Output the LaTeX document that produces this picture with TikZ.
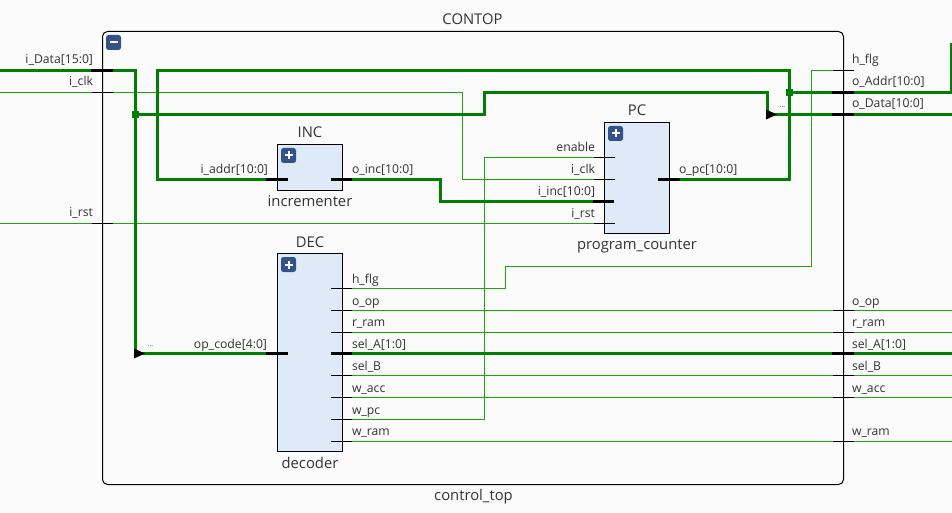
\documentclass[tikz,border=0pt]{standalone}
\usepackage{fontspec}
\setmainfont{Open Sans}
\definecolor{bg}{HTML}{FBFBFB}
\definecolor{busgreen}{HTML}{008000}
\definecolor{netgreen}{HTML}{1CA80C}
\definecolor{blockblue}{HTML}{DEEAF8}
\definecolor{btnblue}{HTML}{34528A}
\definecolor{txt}{HTML}{333333}
\tikzset{
  bus/.style={draw=busgreen,line width=3pt,line join=miter},
  net/.style={draw=netgreen,line width=1pt},
  stubthin/.style={draw=black,line width=1pt},
  stubthick/.style={draw=black,line width=3pt},
  block/.style={draw=black,line width=1pt,fill=blockblue,inner sep=0pt,outer sep=0pt},
  lbl/.style={text=txt,font=\fontsize{12.2}{14}\selectfont,inner sep=0pt,outer sep=0pt},
  lr/.style={lbl,anchor=base east},
  ll/.style={lbl,anchor=base west},
  ttl/.style={text=txt,font=\fontsize{14.8}{17}\selectfont,inner sep=0pt,anchor=base},
  btn/.style={fill=btnblue,rounded corners=2.5pt,minimum size=15pt,inner sep=0pt},
  jn/.style={fill=busgreen,minimum size=6.5pt,inner sep=0pt},
  rip/.style={fill=black},
  dots/.style={text=black!70,font=\fontsize{7}{7}\selectfont,inner sep=0pt}
}
\begin{document}
\begin{tikzpicture}[x=1pt,y=-1pt]
\useasboundingbox[fill=bg] (0,0) rectangle (952,513);
% outer box
\node[draw=black,line width=1pt,fill=bg,rounded corners=5pt,minimum width=741pt,minimum height=453pt,inner sep=0pt] (top) at (473,258) {};
% blocks
\node[block,minimum width=65pt,minimum height=46pt] (inc) at (310,167.5) {};
\node[block,minimum width=65pt,minimum height=198pt] (dec) at (310,352.5) {};
\node[block,minimum width=65pt,minimum height=111pt] (pc) at (637,178) {};
% coordinates
\coordinate (dataIn) at (0,70.5);
\coordinate (clkIn) at (0,92.5);
\coordinate (rstIn) at (0,223.5);
\coordinate (trunk) at (135.5,70.5);
\coordinate (pcClk) at (594,179.5);
\coordinate (pcRst) at (594,223.5);
\coordinate (pcEn) at (594,157.5);
\coordinate (pcInc) at (593,201.5);
\coordinate (pcOut) at (680,179.5);
\coordinate (incIn) at (266,179.5);
\coordinate (incOut) at (352,179.5);
\coordinate (decIn) at (266,353.5);
\coordinate (hflgOut) at (352,288.5);
\coordinate (wpcOut) at (352,419.5);
\coordinate (hflgPort) at (833,70.5);
\coordinate (addrEnd) at (951.5,43);
% wires thin
\draw[net] (clkIn) -- (462.5,92.5) -- (462.5,179.5) -- (pcClk);
\draw[net] (rstIn) -- (pcRst);
\draw[net] (wpcOut) -- (484.5,419.5) -- (484.5,157.5) -- (pcEn);
\draw[net] (hflgOut) -- (505.5,288.5) -- (505.5,266.5) -- (811.5,266.5) -- (811.5,70.5) -- (hflgPort);
\foreach \n/\y in {op/310.5,rram/332.5,selb/375.5,wacc/397.5,wram/441.5}{
  \coordinate (\n L) at (352,\y);
  \coordinate (\n R) at (952,\y);
  \draw[net] (\n L) -- (\n R);
}
% wires thick
\coordinate (selaL) at (352,353.5);
\coordinate (selaR) at (952,353.5);
\draw[bus] (selaL) -- (selaR);
\draw[bus] (dataIn) -- (trunk) -- (135.5,353.5) -- (decIn);
\draw[bus] (incIn) -- (157.5,179.5) -- (157.5,70.5) -- (789.5,70.5) -- (789.5,179.5) -- (pcOut);
\draw[bus] (incOut) -- (440.5,179.5) -- (440.5,201.5) -- (pcInc);
\draw[bus] (135.5,114.5) -- (484.5,114.5) -- (484.5,92.5) -- (767.5,92.5) -- (767.5,114.5) -- (952,114.5);
\draw[bus] (789.5,92.5) -- (951.5,92.5) -- (addrEnd);
% junctions and rippers
\node[jn] (j1) at (135.5,114.5) {};
\node[jn] (j2) at (789.5,92.5) {};
\fill[rip] (134,348.5) -- (145,353.5) -- (134,358.5) -- cycle;
\fill[rip] (766,109.5) -- (777,114.5) -- (766,119.5) -- cycle;
\node[dots] (d1) at (150.5,346.5) {...};
\node[dots] (d2) at (782.5,107.5) {...};
% buttons
\node[btn] (bTop) at (113.5,42.5) {};
\draw[white,line width=2pt] (109.5,42.5) -- (117.5,42.5);
\node[btn] (bInc) at (288.5,155.5) {};
\draw[white,line width=2pt] (284.5,155.5) -- (292.5,155.5) (288.5,151.5) -- (288.5,159.5);
\node[btn] (bDec) at (288.5,264.5) {};
\draw[white,line width=2pt] (284.5,264.5) -- (292.5,264.5) (288.5,260.5) -- (288.5,268.5);
\node[btn] (bPc) at (615.5,133.5) {};
\draw[white,line width=2pt] (611.5,133.5) -- (619.5,133.5) (615.5,129.5) -- (615.5,137.5);
% port stubs
\foreach \y in {92.5,223.5}{\draw[stubthin] (92,\y) -- (113,\y);}
\draw[stubthick] (91,70.5) -- (113,70.5);
\foreach \y in {70.5,310.5,332.5,375.5,397.5,441.5}{\draw[stubthin] (833,\y) -- (854,\y);}
\foreach \y in {92.5,114.5,353.5}{\draw[stubthick] (832,\y) -- (854,\y);}
\draw[stubthick] (266,179.5) -- (288,179.5);
\draw[stubthick] (331,179.5) -- (352,179.5);
\draw[stubthick] (266,353.5) -- (288,353.5);
\foreach \y in {288.5,310.5,332.5,375.5,397.5,419.5,441.5}{\draw[stubthin] (331,\y) -- (352,\y);}
\draw[stubthick] (331,353.5) -- (352,353.5);
\foreach \y in {157.5,179.5,223.5}{\draw[stubthin] (594,\y) -- (615,\y);}
\draw[stubthick] (593,201.5) -- (614,201.5);
\draw[stubthick] (658,179.5) -- (680,179.5);
% titles
\node[ttl] (tTop) at (472.5,25) {CONTOP};
\node[ttl] (tTopB) at (473.5,500) {control\_top};
\node[ttl] (tInc) at (310,138) {INC};
\node[ttl] (tIncB) at (310,206) {incrementer};
\node[ttl] (tDec) at (310,247) {DEC};
\node[ttl] (tDecB) at (310,468) {decoder};
\node[ttl] (tPc) at (637,116) {PC};
\node[ttl] (tPcB) at (637,249) {program\_counter};
% port labels
\node[lr] (l1) at (93,64) {i\_Data[15:0]};
\node[lr] (l2) at (93,86) {i\_clk};
\node[lr] (l3) at (93,216) {i\_rst};
\node[lr] (l4) at (268,174) {i\_addr[10:0]};
\node[lr] (l5) at (267,348) {op\_code[4:0]};
\node[ll] (l6) at (352,174) {o\_inc[10:0]};
\node[lr] (l7) at (595,152) {enable};
\node[lr] (l8) at (595,174) {i\_clk};
\node[lr] (l9) at (595,195) {i\_inc[10:0]};
\node[lr] (l10) at (595,217) {i\_rst};
\node[ll] (l11) at (679,174) {o\_pc[10:0]};
\foreach \t/\y in {h\_flg/283,o\_op/305,r\_ram/326,sel\_A[1:0]/348,sel\_B/370,w\_acc/392,w\_pc/414,w\_ram/435}{
  \node[ll] at (352,\y) {\t};
}
\foreach \t/\y in {h\_flg/64,o\_Addr[10:0]/86,o\_Data[10:0]/108,o\_op/305,r\_ram/326,sel\_A[1:0]/348,sel\_B/370,w\_acc/392,w\_ram/435}{
  \node[ll] at (852,\y) {\t};
}
\end{tikzpicture}
\end{document}
